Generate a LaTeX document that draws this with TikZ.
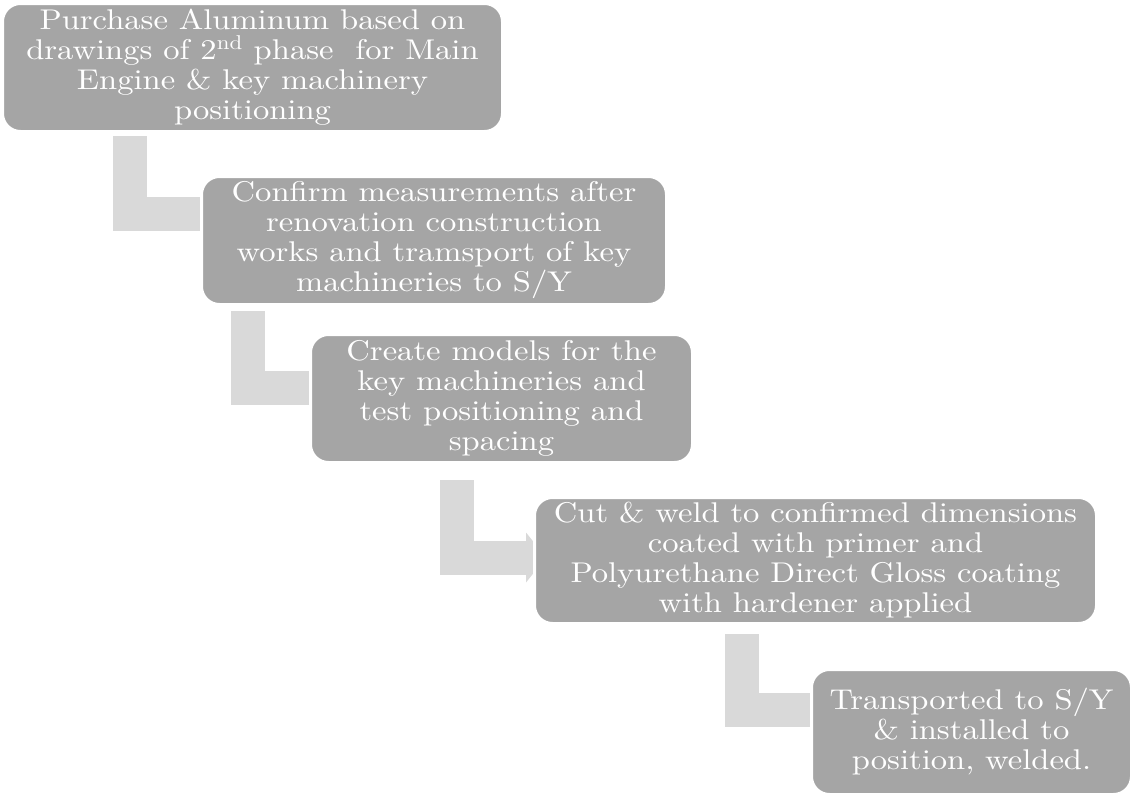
\documentclass[tikz,border=0pt]{standalone}
\usepackage{fontspec}
\setmainfont{lmroman10-regular}[Extension=.otf, FakeStretch=1.143]
\usetikzlibrary{arrows.meta,calc,backgrounds}
\newlength\pxu
\setlength\pxu{0.75pt}
\definecolor{boxgray}{HTML}{A5A5A5}
\definecolor{conngray}{HTML}{D9D9D9}
\tikzset{
  stepbox/.style={fill=boxgray, draw=white, line width=3\pxu, rounded corners=18\pxu,
    text=white, align=center, inner sep=0pt,
    font=\fontsize{21.4pt}{22.5pt}\selectfont},
  conn/.style={draw=conngray, line width=25.5pt, line join=miter, line cap=butt,
    -{Triangle[length=15pt,width=37.5pt,line width=0pt]}},
}
\begin{document}
\begin{tikzpicture}[x=0.75pt,y=-0.75pt]
\useasboundingbox (0,0) rectangle (1133,796);
\node[stepbox, minimum width=500\pxu, minimum height=128\pxu] (b1) at (252.5,67.5)
  {Purchase Aluminum based on\\ drawings of 2\textsuperscript{nd} phase \ for Main\\ Engine \& key machinery\\ positioning};
\node[stepbox, minimum width=465\pxu, minimum height=128\pxu] (b2) at (434,240.5)
  {Confirm measurements after\\ renovation construction\\ works and tramsport of key\\ machineries to S/Y};
\node[stepbox, minimum width=382\pxu, minimum height=128\pxu] (b3) at (501.5,398.5)
  {Create models for the\\ key machineries and\\ test positioning and\\ spacing};
\node[stepbox, minimum width=562\pxu, minimum height=126\pxu] (b4) at (815.5,560.5)
  {Cut \& weld to confirmed dimensions\\ coated with primer and\\ Polyurethane Direct Gloss coating\\ with hardener applied};
\node[stepbox, minimum width=320\pxu, minimum height=125\pxu] (b5) at (971.5,732)
  {Transported to S/Y\\ \& installed to\\ position, welded.};
\begin{pgfonlayer}{background}
\draw[conn] ($(b1.south west)+(129,3)$) |- ($(b2.north west)+(25,39)$);
\draw[conn] ($(b2.south west)+(48,5)$) |- ($(b3.north west)+(25,55)$);
\draw[conn] ($(b3.south west)+(148,16)$) |- ($(b4.north west)+(13,61.5)$);
\draw[conn] ($(b4.south west)+(208.5,9)$) |- ($(b5.north west)+(25,42)$);
\end{pgfonlayer}
\end{tikzpicture}
\end{document}
